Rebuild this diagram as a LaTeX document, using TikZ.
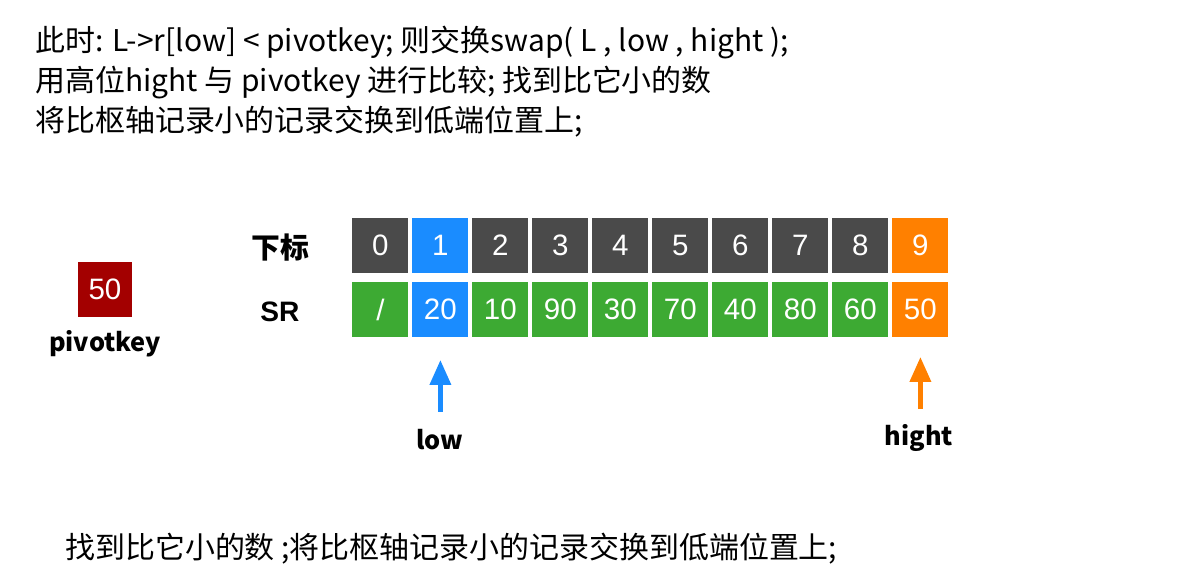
\documentclass[tikz,border=0pt]{standalone}
\usepackage{fontspec}
\setmainfont{Noto Sans CJK SC}
\newfontfamily\numfont{Liberation Sans}
\usetikzlibrary{arrows.meta, positioning}

\definecolor{cellgray}{HTML}{4A4A4A}
\definecolor{cellblue}{HTML}{1A8CFF}
\definecolor{cellorange}{HTML}{FF8000}
\definecolor{cellgreen}{HTML}{3DAA33}
\definecolor{keyred}{HTML}{A30000}

\begin{document}
\begin{tikzpicture}[
  node distance=0.1cm,
  cell/.style={minimum width=1.4cm, minimum height=1.375cm, inner sep=0pt,
               outer sep=0pt, text=white, font=\numfont\fontsize{21}{21}\selectfont},
  idx/.style={cell, fill=cellgray},
  val/.style={cell, fill=cellgreen},
  lowcell/.style={cell, fill=cellblue},
  highcell/.style={cell, fill=cellorange},
  keycell/.style={cell, fill=keyred, minimum width=1.35cm, minimum height=1.375cm},
  rowlbl/.style={font=\fontsize{20.5}{20.5}\selectfont\bfseries},
  ptr/.style={-{Triangle[length=0.62cm, width=0.52cm]}, line width=3pt},
  ptrlbl/.style={font=\fontsize{18}{18}\selectfont\bfseries},
  note/.style={anchor=base west, inner sep=0pt,
               font=\fontsize{21.3}{21.3}\selectfont}
]
\useasboundingbox (0,0) rectangle (30,-14.5);

% explanation
\node[note] (head1) at (0.875,-1.3)
  {此时: L->r[low] < pivotkey; 则交换swap( L , low , hight );};
\node[note] (head2) at (0.875,-2.3)
  {用高位hight 与 pivotkey 进行比较; 找到比它小的数};
\node[note] (head3) at (0.875,-3.3)
  {将比枢轴记录小的记录交换到低端位置上;};

% pivot key
\node[keycell] (key) at (2.625,-7.24) {50};
\node[ptrlbl, below=0.2cm of key] (keylbl) {pivotkey};

% index row
\node[rowlbl] (lidx) at (7.0,-6.2) {下标};
\node[idx] (i0) at (9.51,-6.14) {0};
\node[lowcell, right=of i0] (i1) {1};
\node[idx, right=of i1] (i2) {2};
\node[idx, right=of i2] (i3) {3};
\node[idx, right=of i3] (i4) {4};
\node[idx, right=of i4] (i5) {5};
\node[idx, right=of i5] (i6) {6};
\node[idx, right=of i6] (i7) {7};
\node[idx, right=of i7] (i8) {8};
\node[highcell, right=of i8] (i9) {9};

% value row
\node[rowlbl, font=\numfont\fontsize{20}{20}\selectfont\bfseries] (lval) at (7.0,-7.8) {SR};
\node[val, below=0.225cm of i0] (v0) {/};
\node[lowcell, right=of v0] (v1) {20};
\node[val, right=of v1] (v2) {10};
\node[val, right=of v2] (v3) {90};
\node[val, right=of v3] (v4) {30};
\node[val, right=of v4] (v5) {70};
\node[val, right=of v5] (v6) {40};
\node[val, right=of v6] (v7) {80};
\node[val, right=of v7] (v8) {60};
\node[highcell, right=of v8] (v9) {50};

% pointers
\path (v1.south) ++(0,-1.87) coordinate (lowtail);
\node[ptrlbl] (low) at (11.0,-11.0) {low};
\draw[ptr, cellblue, shorten >=0.575cm] (lowtail) -- (v1.south);

\path (v9.south) ++(0,-1.8) coordinate (hightail);
\node[ptrlbl] (high) at (22.97,-10.95) {hight};
\draw[ptr, cellorange, shorten >=0.5cm] (hightail) -- (v9.south);

% conclusion
\node[note] (tail) at (1.625,-13.97)
  {找到比它小的数 ;将比枢轴记录小的记录交换到低端位置上;};

\end{tikzpicture}
\end{document}
